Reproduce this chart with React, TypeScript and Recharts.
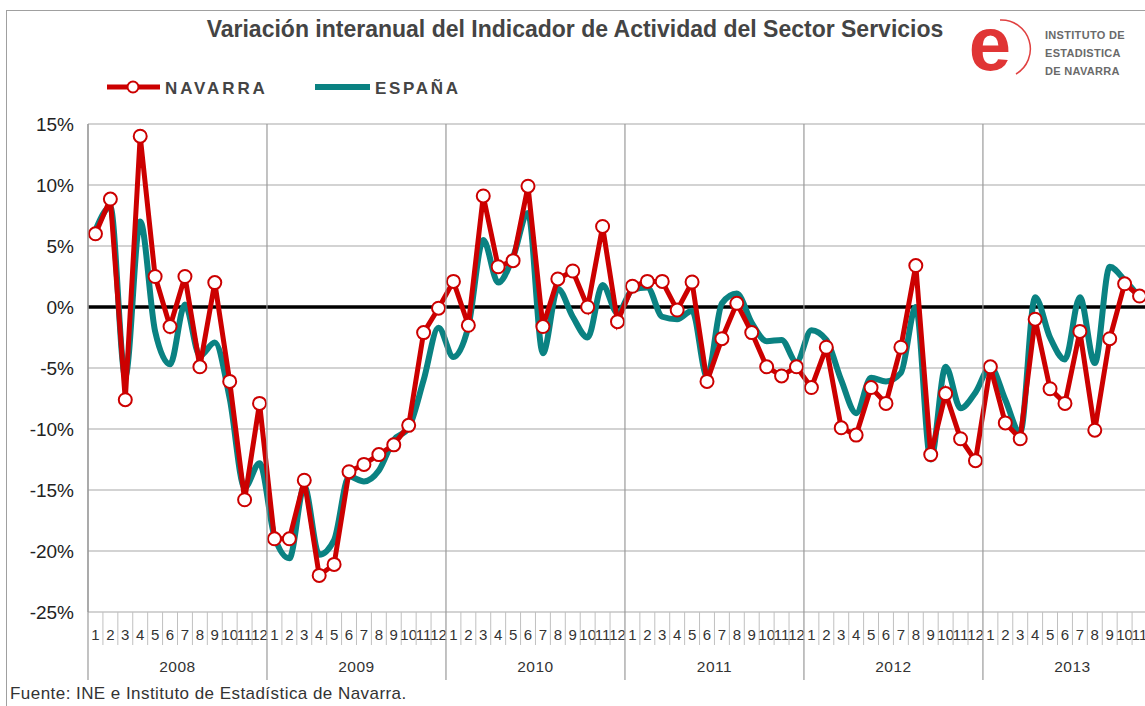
import React from 'react';
import { LineChart, Line, XAxis, YAxis, CartesianGrid, ReferenceLine } from 'recharts';

const YEARS = ['2008', '2009', '2010', '2011', '2012', '2013'];
const MONTHS_PER_YEAR = [12, 12, 12, 12, 12, 11];

const NAVARRA = [
  6.0, 8.85, -7.6, 14.0, 2.5, -1.6, 2.5, -4.9, 2.0, -6.1, -15.8, -7.9,
  -19.0, -19.0, -14.2, -22.0, -21.1, -13.5, -12.9, -12.1, -11.3, -9.7, -2.1, -0.1,
  2.1, -1.5, 9.1, 3.3, 3.8, 9.9, -1.6, 2.3, 2.95, 0.0, 6.6, -1.2,
  1.7, 2.1, 2.1, -0.25, 2.05, -6.1, -2.6, 0.3, -2.1, -4.9, -5.65, -4.9,
  -6.6, -3.3, -9.9, -10.5, -6.6, -7.9, -3.3, 3.4, -12.1, -7.1, -10.8, -12.6,
  -4.9, -9.5, -10.8, -1.0, -6.7, -7.9, -2.0, -10.1, -2.6, 1.9, 0.9,
];

const ESPANA = [
  6.3, 8.2, -5.7, 7.0, -2.0, -4.7, 0.2, -4.0, -2.9, -7.5, -14.8, -12.8,
  -18.8, -20.6, -14.7, -20.3, -19.1, -13.9, -14.3, -13.4, -10.9, -9.9, -6.0, -1.7,
  -4.1, -1.6, 5.5, 2.0, 4.1, 7.7, -3.8, 1.5, -0.8, -2.5, 1.8, -0.5,
  1.4, 1.6, -0.8, -1.0, -0.3, -5.7, 0.3, 1.1, -1.3, -2.8, -2.7, -4.5,
  -1.9, -2.7, -6.0, -8.7, -5.8, -6.1, -5.4, 0.0, -12.5, -4.9, -8.3, -7.0,
  -4.9, -7.6, -10.3, 0.8, -2.5, -4.3, 0.8, -4.6, 3.3, 2.2, 0.8,
];

const Y_TICKS = [-25, -20, -15, -10, -5, 0, 5, 10, 15];

const data: { key: string; year: string; month: number; navarra: number; espana: number }[] = [];
{
  let idx = 0;
  YEARS.forEach((y, yi) => {
    for (let m = 1; m <= MONTHS_PER_YEAR[yi]; m++) {
      data.push({ key: `${y}-${m}`, year: y, month: m, navarra: NAVARRA[idx], espana: ESPANA[idx] });
      idx++;
    }
  });
}

const CHART_W = 1150;
const CHART_H = 706;
const PLOT_LEFT = 88;
const PLOT_RIGHT = 1147;
const PLOT_TOP = 124;
const PLOT_BOTTOM = 612;
const STEP = (PLOT_RIGHT - PLOT_LEFT) / data.length;
const FONT = '"Liberation Sans", Arial, sans-serif';
const RED = '#cc0000';
const TEAL = '#0a8282';

const XTick = (props: any) => {
  const { x, index } = props;
  const d = data[index];
  if (!d) return null;
  const left = x - STEP / 2;
  return (
    <g>
      {d.month === 1 ? (
        <line x1={left} x2={left} y1={PLOT_TOP} y2={680} stroke="#9a9a9a" strokeWidth={1.2} />
      ) : (
        <line x1={left} x2={left} y1={PLOT_BOTTOM} y2={645} stroke="#c0c0c0" strokeWidth={1} />
      )}
      <text x={x} y={640} textAnchor="middle" fontSize={15} fill="#333" fontFamily={FONT}>
        {d.month}
      </text>
      {d.month === 6 && (
        <text x={x + STEP / 2} y={672} textAnchor="middle" fontSize={15.5} fill="#333" fontFamily={FONT} letterSpacing={0.5}>
          {d.year}
        </text>
      )}
    </g>
  );
};

const YTick = (props: any) => {
  const { y, payload } = props;
  return (
    <text x={74} y={y + 7} textAnchor="end" fontSize={19} fill="#222" fontFamily={FONT}>
      {`${payload.value}%`}
    </text>
  );
};

const NavDot = (props: any) => {
  const { cx, cy, index } = props;
  if (cx == null || cy == null) return null;
  return <circle key={`d${index}`} cx={cx} cy={cy} r={6.5} fill="#fff" stroke={RED} strokeWidth={2} />;
};

export default function App() {
  return (
    <div style={{ position: 'absolute', left: 0, top: 0, width: 1145, height: 706, overflow: 'hidden', background: '#fff', fontFamily: FONT }}>
      <div style={{ position: 'absolute', left: 6, top: 10, width: 1200, height: 800, borderTop: '1px solid #a0a0a0', borderLeft: '1px solid #a0a0a0' }} />
      <LineChart
        width={CHART_W}
        height={CHART_H}
        data={data}
        margin={{ top: PLOT_TOP, right: CHART_W - PLOT_RIGHT, left: 0, bottom: 0 }}
      >
        <CartesianGrid vertical={false} stroke="#a8a8a8" strokeWidth={1.2} />
        <XAxis
          dataKey="key"
          interval={0}
          tick={<XTick />}
          tickLine={false}
          axisLine={false}
          height={CHART_H - PLOT_BOTTOM}
          padding={{ left: STEP / 2, right: STEP / 2 }}
        />
        <YAxis
          domain={[-25, 15]}
          ticks={Y_TICKS}
          width={PLOT_LEFT}
          tick={<YTick />}
          tickLine={false}
          axisLine={{ stroke: '#9a9a9a', strokeWidth: 1.2 }}
          allowDataOverflow
        />
        <ReferenceLine y={0} stroke="#000" strokeWidth={3.5} />
        <Line type="monotone" dataKey="espana" stroke={TEAL} strokeWidth={6} dot={false} isAnimationActive={false} />
        <Line type="linear" dataKey="navarra" stroke={RED} strokeWidth={5} dot={<NavDot />} isAnimationActive={false} />
      </LineChart>

      <div style={{ position: 'absolute', left: 0, width: 1150, top: 16, textAlign: 'center', fontSize: 23, fontWeight: 'bold', color: '#444', whiteSpace: 'nowrap' }}>
        Variación interanual del Indicador de Actividad del Sector Servicios
      </div>

      <svg style={{ position: 'absolute', left: 950, top: 4 }} width={96} height={86}>
        <path d="M 50 16 A 29 29 0 0 1 66 70" fill="none" stroke="#e04040" strokeWidth={1.5} />
        <text x={40} y={66} textAnchor="middle" fontSize={76} fontWeight="bold" fill="#e03535" fontFamily={FONT}>e</text>
      </svg>
      <div style={{ position: 'absolute', left: 1045, top: 26, fontSize: 11, fontWeight: 'bold', color: '#6a6a6a', lineHeight: '18px', letterSpacing: 0.3 }}>
        <div>INSTITUTO DE</div>
        <div>ESTADISTICA</div>
        <div>DE NAVARRA</div>
      </div>

      <svg style={{ position: 'absolute', left: 100, top: 76 }} width={400} height={24}>
        <line x1={7} x2={60} y1={11} y2={11} stroke={RED} strokeWidth={5} />
        <circle cx={33} cy={11} r={5.5} fill="#fff" stroke={RED} strokeWidth={2} />
        <text x={65} y={18} fontSize={17} fontWeight="bold" fill="#444" letterSpacing={2.9} fontFamily={FONT}>NAVARRA</text>
        <line x1={215} x2={270} y1={11} y2={11} stroke={TEAL} strokeWidth={6} />
        <text x={275} y={18} fontSize={17} fontWeight="bold" fill="#444" letterSpacing={2.7} fontFamily={FONT}>ESPAÑA</text>
      </svg>

      <div style={{ position: 'absolute', left: 10, top: 684, fontSize: 17, letterSpacing: 0.45, color: '#333', whiteSpace: 'nowrap' }}>
        Fuente: INE e Instituto de Estadística de Navarra.
      </div>
    </div>
  );
}
